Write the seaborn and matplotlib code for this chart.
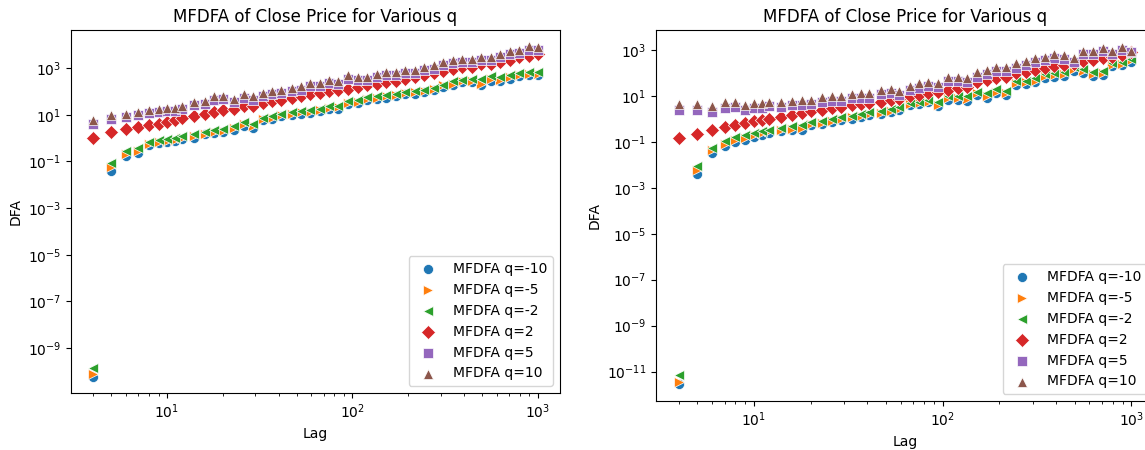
import numpy as np
import matplotlib
matplotlib.use("Agg")
import matplotlib.pyplot as plt
import seaborn as sns

# Lags (window sizes)
lags = [4, 5, 6, 7, 8, 9, 10, 11, 12, 14, 16, 18, 20, 23, 26, 29, 33, 37, 41, 47,
        53, 59, 67, 75, 84, 95, 107, 120, 135, 152, 171, 193, 217, 244, 275, 309,
        348, 391, 440, 495, 557, 627, 706, 794, 893, 1000]

q_labels = ["MFDFA q=-10", "MFDFA q=-5", "MFDFA q=-2", "MFDFA q=2", "MFDFA q=5", "MFDFA q=10"]

# Left panel: log10(DFA)
left_qm10 = [-10.22, -1.40, -0.78, -0.64, -0.31, -0.21, -0.16, -0.11, -0.04, 0.02, 0.16, 0.22, 0.26, 0.36, 0.51, 0.45,
             0.79, 0.83, 0.93, 0.98, 1.05, 1.08, 1.15, 1.26, 1.26, 1.45, 1.50, 1.62, 1.69, 1.73, 1.82, 1.88, 1.90,
             1.96, 2.07, 2.19, 2.26, 2.40, 2.40, 2.26, 2.47, 2.45, 2.55, 2.65, 2.72, 2.72]
left_qm5 = [-10.10, -1.23, -0.69, -0.55, -0.26, -0.16, -0.12, -0.06, 0.01, 0.08, 0.19, 0.26, 0.31, 0.45, 0.59, 0.51,
            0.83, 0.88, 0.98, 1.05, 1.12, 1.12, 1.19, 1.30, 1.33, 1.50, 1.55, 1.69, 1.73, 1.79, 1.86, 1.93, 1.96,
            2.02, 2.12, 2.26, 2.33, 2.47, 2.47, 2.33, 2.55, 2.50, 2.62, 2.69, 2.76, 2.76]
left_qm2 = [-9.86, -1.05, -0.55, -0.41, -0.16, -0.06, -0.02, 0.02, 0.08, 0.19, 0.26, 0.36, 0.41, 0.51, 0.69, 0.59,
            0.88, 0.93, 1.05, 1.12, 1.16, 1.22, 1.26, 1.36, 1.40, 1.59, 1.62, 1.76, 1.79, 1.83, 1.90, 1.97, 2.02,
            2.07, 2.16, 2.30, 2.45, 2.50, 2.55, 2.55, 2.65, 2.62, 2.69, 2.79, 2.83, 2.83]
left_q2 = [0.02, 0.26, 0.41, 0.48, 0.56, 0.62, 0.69, 0.76, 0.88, 0.93, 1.02, 1.12, 1.22, 1.26, 1.36, 1.36,
           1.50, 1.59, 1.65, 1.73, 1.79, 1.88, 1.93, 2.02, 2.07, 2.12, 2.19, 2.26, 2.33, 2.40, 2.45, 2.55, 2.62,
           2.69, 2.79, 2.90, 2.97, 3.04, 3.07, 3.16, 3.19, 3.26, 3.36, 3.47, 3.54, 3.61]
left_q5 = [0.62, 0.84, 0.92, 0.98, 1.08, 1.12, 1.17, 1.17, 1.27, 1.41, 1.45, 1.65, 1.66, 1.56, 1.74, 1.65,
           1.80, 1.88, 1.93, 2.02, 2.08, 2.22, 2.22, 2.36, 2.32, 2.55, 2.48, 2.48, 2.62, 2.69, 2.70, 2.79, 2.80,
           2.91, 2.98, 3.12, 3.22, 3.27, 3.27, 3.37, 3.37, 3.48, 3.59, 3.65, 3.79, 3.77]
left_q10 = [0.76, 0.98, 1.05, 1.12, 1.22, 1.26, 1.30, 1.30, 1.40, 1.55, 1.59, 1.79, 1.79, 1.69, 1.88, 1.79,
            1.93, 2.02, 2.07, 2.16, 2.22, 2.36, 2.36, 2.50, 2.45, 2.69, 2.62, 2.62, 2.76, 2.83, 2.83, 2.93, 2.93,
            3.04, 3.12, 3.26, 3.36, 3.40, 3.40, 3.50, 3.50, 3.61, 3.73, 3.79, 3.93, 3.90]

# Right panel: log10(DFA)
right_qm10 = [-11.55, -2.38, -1.48, -1.19, -1.00, -0.91, -0.80, -0.68, -0.61, -0.54, -0.48, -0.46, -0.28, -0.22, -0.13,
              -0.05, 0.01, 0.07, 0.18, 0.21, 0.30, 0.40, 0.59, 0.65, 0.73, 0.55, 0.83, 0.83, 0.79, 1.05, 0.91, 1.12,
              1.05, 1.48, 1.51, 1.60, 1.80, 1.84, 1.89, 2.09, 1.99, 1.89, 1.92, 2.32, 2.35, 2.49]
right_qm5 = [-11.44, -2.24, -1.37, -1.09, -0.90, -0.83, -0.71, -0.61, -0.54, -0.46, -0.42, -0.39, -0.22, -0.18, -0.08,
             0.01, 0.07, 0.11, 0.21, 0.26, 0.36, 0.44, 0.65, 0.69, 0.76, 0.62, 0.91, 0.91, 0.88, 1.12, 0.98, 1.19,
             1.12, 1.56, 1.60, 1.66, 1.87, 1.92, 1.95, 2.18, 2.09, 1.95, 1.99, 2.35, 2.38, 2.57]
right_qm2 = [-11.17, -2.05, -1.26, -0.97, -0.80, -0.71, -0.61, -0.54, -0.46, -0.39, -0.32, -0.25, -0.13, -0.08, 0.01,
             0.07, 0.11, 0.21, 0.30, 0.33, 0.44, 0.50, 0.69, 0.76, 0.83, 0.76, 0.98, 0.98, 0.98, 1.19, 1.12, 1.31,
             1.22, 1.66, 1.66, 1.77, 1.95, 1.99, 2.06, 2.28, 2.18, 2.06, 2.09, 2.42, 2.46, 2.61]
right_q2 = [-0.85, -0.65, -0.46, -0.36, -0.28, -0.18, -0.08, -0.03, 0.01, 0.07, 0.16, 0.26, 0.33, 0.40, 0.47, 0.50,
            0.59, 0.65, 0.69, 0.76, 0.83, 0.88, 0.98, 1.05, 1.12, 1.17, 1.27, 1.34, 1.41, 1.63, 1.70, 1.80, 1.84,
            1.99, 2.06, 2.13, 2.20, 2.32, 2.35, 2.38, 2.52, 2.57, 2.64, 2.71, 2.78, 2.90]
right_q5 = [0.40, 0.40, 0.30, 0.47, 0.50, 0.40, 0.47, 0.47, 0.55, 0.50, 0.59, 0.62, 0.65, 0.73, 0.79, 0.79,
            0.91, 0.93, 0.93, 1.08, 1.12, 1.05, 1.27, 1.37, 1.45, 1.41, 1.66, 1.66, 1.63, 1.84, 1.95, 2.09, 2.09,
            2.23, 2.35, 2.49, 2.57, 2.64, 2.61, 2.49, 2.81, 2.81, 2.96, 2.85, 3.00, 2.90]
right_q10 = [0.65, 0.65, 0.55, 0.73, 0.76, 0.62, 0.69, 0.69, 0.76, 0.73, 0.79, 0.83, 0.83, 0.94, 0.98, 0.98,
             1.08, 1.12, 1.12, 1.27, 1.31, 1.22, 1.45, 1.56, 1.63, 1.56, 1.84, 1.84, 1.80, 2.03, 2.13, 2.28, 2.28,
             2.42, 2.52, 2.67, 2.71, 2.81, 2.78, 2.64, 2.96, 2.96, 3.10, 2.96, 3.14, 2.96]

markers = ["o", ">", "<", "D", "s", "^"]
colors = ["#1f77b4", "#ff7f0e", "#2ca02c", "#d62728", "#9467bd", "#8c564b"]

left_series = [left_qm10, left_qm5, left_qm2, left_q2, left_q5, left_q10]
right_series = [right_qm10, right_qm5, right_qm2, right_q2, right_q5, right_q10]

plt.rcParams["font.family"] = ["DejaVu Sans"]
fig = plt.figure(figsize=(11.45, 4.5), dpi=100)
ax1 = fig.add_axes([71 / 1145, (450 - 393) / 450, (560 - 71) / 1145, (393 - 30) / 450])
ax2 = fig.add_axes([656 / 1145, (450 - 401) / 450, (1154 - 656) / 1145, (401 - 30) / 450])

for ax, series in [(ax1, left_series), (ax2, right_series)]:
    for vals, lab, m, c in zip(series, q_labels, markers, colors):
        sns.scatterplot(x=lags, y=10 ** np.array(vals), marker=m, color=c, label=lab, ax=ax,
                        s=52, linewidth=0.5)
    ax.set_xscale("log")
    ax.set_yscale("log")
    ax.set_title("MFDFA of Close Price for Various q", fontsize=12)
    ax.set_xlabel("Lag")
    ax.set_ylabel("DFA")
    ax.legend(loc="lower right")

fig.savefig("out.png", dpi=100)
